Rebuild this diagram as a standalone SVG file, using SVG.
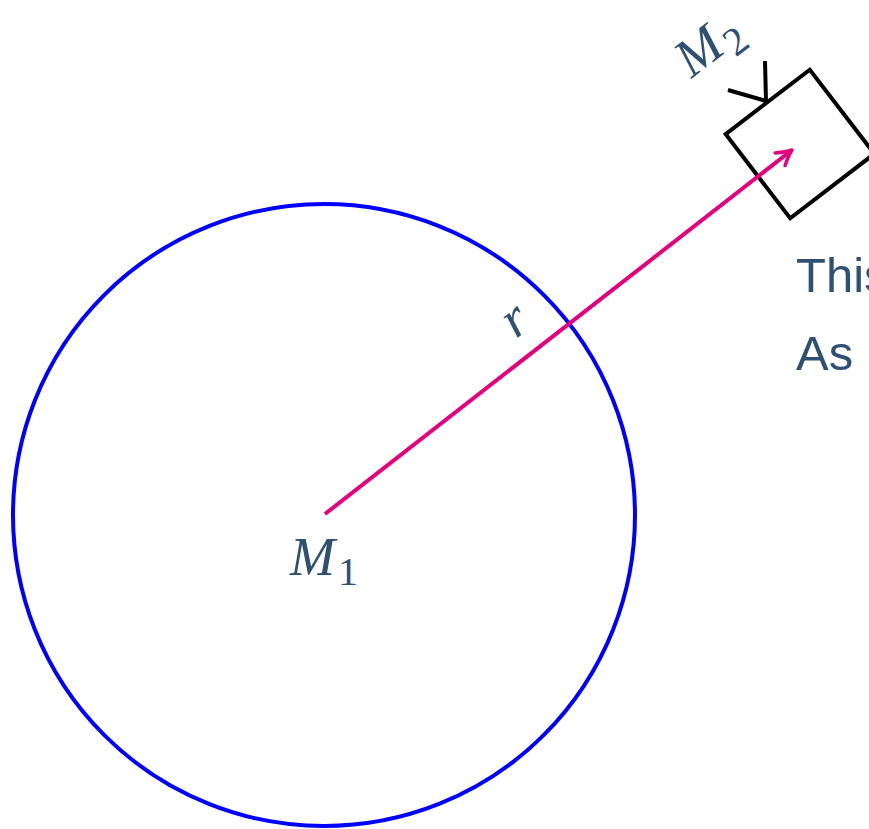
<svg xmlns="http://www.w3.org/2000/svg" width="869" height="829" viewBox="0 0 869 829">
<style>
.math{font-family:"Liberation Serif","DejaVu Serif",serif;font-style:italic;fill:#2d5073;font-size:54px}
.sub{font-family:"Liberation Serif","DejaVu Serif",serif;fill:#2d5073;font-size:40px}
.txt{font-family:"Liberation Sans",Arial,sans-serif;fill:#2d5073;font-size:49px}
.blk{fill:none;stroke:#000;stroke-width:4}
</style>
<defs>
<marker id="head" markerUnits="userSpaceOnUse" orient="auto" refX="0" refY="0" overflow="visible">
<path d="M-15,-8 Q-6,-2 0,0 Q-6,2 -15,8" fill="none" stroke="#e6007e" stroke-width="3.5" stroke-linecap="round" stroke-linejoin="round"/>
</marker>
</defs>
<rect width="869" height="829" fill="#fff"/>
<g id="planet">
<circle cx="324" cy="515" r="311" fill="none" stroke="#0000ff" stroke-width="4"/>
<text class="math" x="290" y="575">M</text>
<text class="sub" x="338" y="585">1</text>
</g>
<g id="satellite">
<rect class="blk" x="-53" y="-53" width="106" height="106" transform="translate(800,144) rotate(-37.5)"/>
<path class="blk" d="M765,61 L766,101 L728,90" stroke-linejoin="miter"/>
<g transform="translate(710,47) rotate(-37.5)">
<text class="math" x="-34" y="14">M</text>
<text class="sub" x="14" y="24">2</text>
</g>
</g>
<g id="connectors">
<path d="M325,514 L792,150" fill="none" stroke="#e6007e" stroke-width="4" marker-end="url(#head)"/>
<text class="math" text-anchor="middle" transform="translate(517,323) rotate(-37.5)" x="0" y="12">r</text>
</g>
<g id="caption">
<text class="txt" x="796" y="292">This</text>
<text class="txt" x="796" y="370">As a</text>
</g>
</svg>
